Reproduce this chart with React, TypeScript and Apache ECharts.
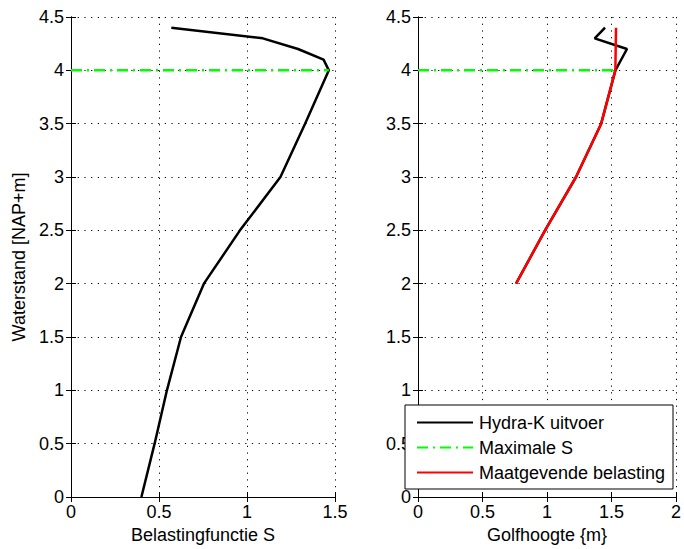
import { useEffect, useRef } from 'react';
import * as echarts from 'echarts';

// Left panel: Hydra-K output, belastingfunctie S versus waterstand
const waterstandS = [0, 0.5, 1, 1.5, 2, 2.5, 3, 3.5, 4, 4.1, 4.2, 4.3, 4.4];
const belastingS = [0.4, 0.475, 0.545, 0.625, 0.755, 0.96, 1.19, 1.33, 1.465, 1.435, 1.29, 1.09, 0.57];

// Right panel: Hydra-K golfhoogte versus waterstand
const waterstandHydraK = [2, 2.5, 3, 3.5, 4, 4.2, 4.3, 4.4];
const golfhoogteHydraK = [0.76, 0.985, 1.225, 1.42, 1.53, 1.62, 1.37, 1.45];

// Right panel: maatgevende belasting
const waterstandMaatgevend = [2, 2.5, 3, 3.5, 4, 4.4];
const golfhoogteMaatgevend = [0.76, 0.985, 1.225, 1.42, 1.53, 1.535];

// Maximale S level (horizontal dash-dot line)
const maxSLevel = 4;
const maxSLeftX = [0, 1.465];
const maxSRightX = [0, 1.53];

const seriesNames = ['Hydra-K uitvoer', 'Maximale S', 'Maatgevende belasting'];
const axisTitles = { yLeft: 'Waterstand [NAP+m]', xLeft: 'Belastingfunctie S', xRight: 'Golfhoogte {m}' };

const FONT = "'Liberation Sans', Arial, Helvetica, sans-serif";
const FS = 18;

const zip = (xs: number[], ys: number[]) => xs.map((x, i) => [x, ys[i]]);

export default function App() {
  const ref = useRef<HTMLDivElement>(null);
  useEffect(() => {
    if (!ref.current) return;
    const chart = echarts.init(ref.current, undefined, { renderer: 'svg' });

    const grid = [
      { left: 71, top: 17, width: 264, height: 480 },
      { left: 418, top: 17, width: 264, height: 480 },
    ];
    const dotted = { show: true, lineStyle: { color: '#000', type: [1.2, 5.5], width: 1 } };
    const axisLine = { show: true, lineStyle: { color: '#000', width: 1 } };
    const tick = { show: true, inside: true, length: 5, lineStyle: { color: '#000' } };
    const label = { color: '#000', fontSize: FS, fontFamily: FONT };

    const mkX = (gridIndex: number, max: number, name: string) => [
      {
        type: 'value', gridIndex, min: 0, max, interval: 0.5, position: 'bottom',
        axisLine, axisTick: tick, splitLine: dotted,
        axisLabel: { ...label, margin: 6, showMaxLabel: true },
        name, nameLocation: 'middle', nameGap: 29,
        nameTextStyle: { color: '#000', fontSize: FS, fontFamily: FONT },
      },
      {
        type: 'value', gridIndex, min: 0, max, interval: 0.5, position: 'top',
        axisLine, axisTick: tick, splitLine: { show: false }, axisLabel: { show: false },
      },
    ];
    const mkY = (gridIndex: number, name: string) => [
      {
        type: 'value', gridIndex, min: 0, max: 4.5, interval: 0.5, position: 'left',
        axisLine, axisTick: tick, splitLine: dotted,
        axisLabel: { ...label, margin: 7 },
        name, nameLocation: 'middle', nameGap: 43,
        nameTextStyle: { color: '#000', fontSize: FS, fontFamily: FONT },
      },
      {
        type: 'value', gridIndex, min: 0, max: 4.5, interval: 0.5, position: 'right',
        axisLine, axisTick: tick, splitLine: { show: false }, axisLabel: { show: false },
      },
    ];

    const line = (name: string, xi: number, yi: number, data: number[][], color: string, type: any = 'solid') => ({
      type: 'line', name, xAxisIndex: xi, yAxisIndex: yi, data,
      symbol: 'none', showSymbol: false, silent: true,
      lineStyle: { color, width: 2.5, type },
      itemStyle: { color },
    });
    const dashDot = [11, 5, 2, 5];

    chart.setOption({
      animation: false,
      backgroundColor: '#fff',
      textStyle: { fontFamily: FONT },
      grid,
      xAxis: [...mkX(0, 1.5, axisTitles.xLeft), ...mkX(1, 2, axisTitles.xRight)],
      yAxis: [...mkY(0, axisTitles.yLeft), ...mkY(1, '')],
      graphic: [
        {
          type: 'rect', z: 3,
          shape: { x: 405, y: 405, width: 268, height: 84 },
          style: { fill: '#fff', stroke: '#000', lineWidth: 1 },
        },
      ],
      legend: {
        show: true, orient: 'vertical', left: 416, top: 412, z: 5,
        data: seriesNames, selectedMode: false,
        itemWidth: 56, itemHeight: 14, itemGap: 4, padding: 0,
        itemStyle: { opacity: 0 },
        textStyle: { color: '#000', fontSize: FS, fontFamily: FONT, lineHeight: 21, padding: [0, 0, 0, 1] },
      },
      series: [
        line(seriesNames[0], 0, 0, zip(belastingS, waterstandS), '#000'),
        line(seriesNames[1], 0, 0, maxSLeftX.map((x) => [x, maxSLevel]), '#00ff00', dashDot),
        line(seriesNames[0], 2, 2, zip(golfhoogteHydraK, waterstandHydraK), '#000'),
        line(seriesNames[1], 2, 2, maxSRightX.map((x) => [x, maxSLevel]), '#00ff00', dashDot),
        line(seriesNames[2], 2, 2, zip(golfhoogteMaatgevend, waterstandMaatgevend), '#ff0000'),
      ],
    });
    return () => chart.dispose();
  }, []);
  return <div ref={ref} style={{ position: 'fixed', left: 0, top: 0, width: 684, height: 549, background: '#fff' }} />;
}
